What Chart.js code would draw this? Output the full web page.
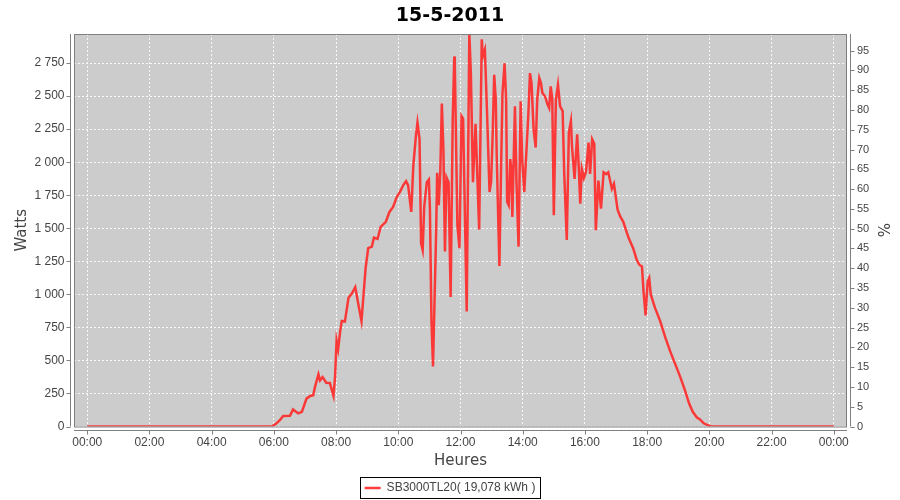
<!DOCTYPE html>
<html><head><meta charset="utf-8">
<script src="https://cdn.jsdelivr.net/npm/chart.js@4"></script>
<style>html,body{margin:0;padding:0;background:#fff}#wrap{width:900px;height:500px;position:relative}</style>
</head><body><div id="wrap"><canvas id="c" width="900" height="500"></canvas></div>
<script>
const chartTitle = '15-5-2011';
const seriesLabel = 'SB3000TL20( 19,078 kWh )';
const xTitle = 'Heures';
const yTitle = 'Watts';
const y2Title = '%';

const times = ['00:00','05:56','06:04','06:12','06:18','06:31','06:37','06:47','06:54','07:03','07:10','07:16','07:19','07:26','07:29','07:34','07:41','07:48','07:55','07:58',
'08:01','08:04','08:08','08:11','08:17','08:24','08:30','08:37','08:43','08:49','08:53','08:57','09:02','09:09','09:13','09:20','09:26','09:36','09:43','09:50','09:57',
'10:03','10:10','10:15','10:19','10:25','10:29','10:34','10:37','10:41','10:44','10:47','10:50','10:55','10:59','11:01','11:04','11:07','11:09','11:13','11:15','11:18',
'11:21','11:24','11:27','11:30','11:33','11:37','11:41','11:45','11:48','11:49','11:54','11:58','12:02','12:05','12:12','12:17','12:20','12:24','12:29','12:36','12:41',
'12:43','12:47','12:51','12:56','12:59','13:02','13:05','13:08','13:10','13:15','13:18','13:21','13:25','13:28','13:30','13:33','13:36','13:38','13:40','13:45','13:48',
'13:52','13:56','13:59','14:03','14:06','14:11','14:14','14:17','14:21','14:25','14:28','14:32','14:35','14:38','14:43','14:48','14:51','14:54','14:57','15:00','15:04',
'15:08','15:12','15:17','15:20','15:25','15:29','15:33','15:35','15:40','15:45','15:48','15:51','15:54','15:58','16:02','16:07','16:10','16:14','16:18','16:21','16:26',
'16:31','16:36','16:41','16:45','16:52','16:56','17:03','17:08','17:14','17:24','17:33','17:40','17:45','17:50','17:53','17:57','18:01','18:04','18:07','18:15','18:25',
'18:35','18:44','18:54','19:04','19:13','19:21','19:28','19:36','19:42','19:49','19:58','20:03','24:00'];
const watts = [0,0,20,49,79,81,129,99,111,211,231,236,294,394,349,374,331,329,231,374,
649,586,724,799,794,974,1004,1054,924,799,1000,1200,1349,1361,1429,1419,1511,1549,1624,1661,1736,
1774,1829,1856,1824,1624,1974,2199,2299,2174,1386,1336,1661,1849,1869,1649,799,455,799,1474,1919,1674,
1924,2444,2099,1324,1886,1849,980,2324,2800,2750,1524,1349,2349,2330,870,2975,2674,1849,2290,1490,2930,
2800,2850,2399,1774,1850,2199,2661,2474,2024,1215,1899,2524,2749,2474,1699,1674,2024,1950,1586,2424,1849,
1361,2461,2024,1774,2000,2374,2674,2599,2249,2111,2474,2636,2600,2524,2499,2436,2410,2574,2480,1599,2474,
2586,2424,2386,1924,1411,2224,2311,2124,1874,2211,1970,1686,1949,1880,1924,2149,1911,2174,2140,1486,1861,
1649,1924,1910,1924,1799,1836,1640,1590,1549,1430,1349,1260,1224,1211,1024,840,1099,1124,999,899,799,
674,574,474,374,274,174,111,68,54,24,8,0,0];

const hourTicks = ['00:00','02:00','04:00','06:00','08:00','10:00','12:00','14:00','16:00','18:00','20:00','22:00','24:00'];
const wattTicks = [0,250,500,750,1000,1250,1500,1750,2000,2250,2500,2750];
const pctTicks = [0,5,10,15,20,25,30,35,40,45,50,55,60,65,70,75,80,85,90,95];

const toMin = s => { const [h, m] = s.split(':').map(Number); return h * 60 + m; };
const fmtTime = v => { const m = ((v % 1440) + 1440) % 1440; const h = Math.floor(m / 60), mm = m % 60; return String(h).padStart(2,'0') + ':' + String(mm).padStart(2,'0'); };
const fmtW = v => String(v).replace(/\B(?=(\d{3})+(?!\d))/g, ' ');

const LEFT = 74, RIGHT = 847, BOTTOM = 426.5, PADB = -4;
const tickFont = { family: 'Liberation Sans', size: 12 };
const axisTitleFont = { family: 'DejaVu Sans', size: 15 };

const frame = {
  id: 'frame',
  beforeDraw(chart) {
    const { ctx, chartArea: a } = chart;
    ctx.save(); ctx.fillStyle = '#cccccc';
    ctx.fillRect(a.left, a.top, a.right - a.left, a.bottom - a.top); ctx.restore();
  },
  afterDraw(chart) {
    const { ctx, chartArea: a, scales } = chart;
    ctx.save();
    ctx.lineWidth = 1; ctx.strokeStyle = '#808080';
    ctx.strokeRect(a.left + 0.5, a.top + 0.5, a.right - a.left - 1, a.bottom - a.top);
    const lx = Math.round(a.left) - 3.5, rx = Math.round(a.right) + 3.5, by = Math.round(a.bottom) + 3.5;
    ctx.beginPath();
    ctx.moveTo(lx, a.top); ctx.lineTo(lx, a.bottom);
    scales.y.ticks.forEach(t => { const y = Math.round(scales.y.getPixelForValue(t.value)) + 0.5; ctx.moveTo(lx - 4, y); ctx.lineTo(lx, y); });
    ctx.moveTo(rx, a.top); ctx.lineTo(rx, a.bottom);
    scales.y1.ticks.forEach(t => { const y = Math.round(scales.y1.getPixelForValue(t.value)) + 0.5; ctx.moveTo(rx, y); ctx.lineTo(rx + 4, y); });
    ctx.moveTo(a.left, by); ctx.lineTo(a.right, by);
    scales.x.ticks.forEach(t => { const x = Math.round(scales.x.getPixelForValue(t.value)) + 0.5; ctx.moveTo(x, by); ctx.lineTo(x, by + 4); });
    ctx.stroke();
    const lg = chart.legend;
    if (lg && lg.legendHitBoxes && lg.legendHitBoxes[0]) {
      const hb = lg.legendHitBoxes[0];
      ctx.strokeStyle = '#000';
      ctx.strokeRect(Math.round(hb.left) - 4.5, Math.round(hb.top + hb.height / 2) - 10.5, Math.round(hb.width) + 9, 21);
    }
    ctx.restore();
  }
};

new Chart(document.getElementById('c'), {
  type: 'line',
  data: { datasets: [{
    label: seriesLabel,
    data: times.map((t, i) => ({ x: toMin(t), y: watts[i] })),
    borderColor: 'rgba(255,40,40,0.9)', backgroundColor: 'rgba(255,40,40,0.9)',
    borderWidth: 2.5, pointRadius: 0, tension: 0, clip: 0, yAxisID: 'y'
  }]},
  options: {
    responsive: false, animation: false, devicePixelRatio: 1,
    layout: { padding: { left: 0, right: 0, top: 0, bottom: PADB } },
    plugins: {
      title: { display: true, text: chartTitle, color: '#000', font: { family: 'DejaVu Sans', size: 19, weight: 'bold' }, padding: { top: 4.6, bottom: 6.6 } },
      legend: { position: 'bottom', labels: { color: '#444', font: { family: 'Liberation Sans', size: 12 }, usePointStyle: true, pointStyle: 'line', pointStyleWidth: 16, padding: 10 } },
      tooltip: { enabled: false }
    },
    scales: {
      x: { type: 'linear', min: -25.5, max: 1465.5,
        afterBuildTicks(s) { s.ticks = hourTicks.map(t => ({ value: toMin(t) })); },
        ticks: { autoSkip: false, maxRotation: 0, color: '#444', font: tickFont, padding: 9, callback: fmtTime },
        grid: { color: 'rgba(255,255,255,0.85)', drawTicks: false }, border: { display: false, dash: [2, 2] },
        title: { display: true, text: xTitle, color: '#444', font: axisTitleFont, padding: { top: 0, bottom: 2 } },
        afterFit(s) { const lh = (s.chart.legend && s.chart.legend.height) || 32; s.height = 500 - PADB - BOTTOM - lh; }
      },
      y: { type: 'linear', position: 'left', min: 0, max: 2970,
        afterBuildTicks(s) { s.ticks = wattTicks.map(v => ({ value: v })); },
        ticks: { color: '#444', font: tickFont, padding: 9.5, callback: fmtW },
        grid: { color: 'rgba(255,255,255,0.85)', drawTicks: false }, border: { display: false, dash: [2, 2] },
        title: { display: true, text: yTitle, color: '#444', font: axisTitleFont, padding: { top: 13, bottom: 0 } },
        afterFit(s) { s.width = LEFT; }
      },
      y1: { type: 'linear', position: 'right', min: 0, max: 99.2,
        afterBuildTicks(s) { s.ticks = pctTicks.map(v => ({ value: v })); },
        ticks: { color: '#444', font: { family: 'Liberation Sans', size: 11 }, padding: 10 },
        grid: { display: false, drawTicks: false }, border: { display: false },
        title: { display: true, text: y2Title, color: '#444', font: axisTitleFont, padding: { top: 9, bottom: 0 } },
        afterFit(s) { s.width = 900 - RIGHT; }
      }
    }
  },
  plugins: [frame]
});
</script></body></html>
